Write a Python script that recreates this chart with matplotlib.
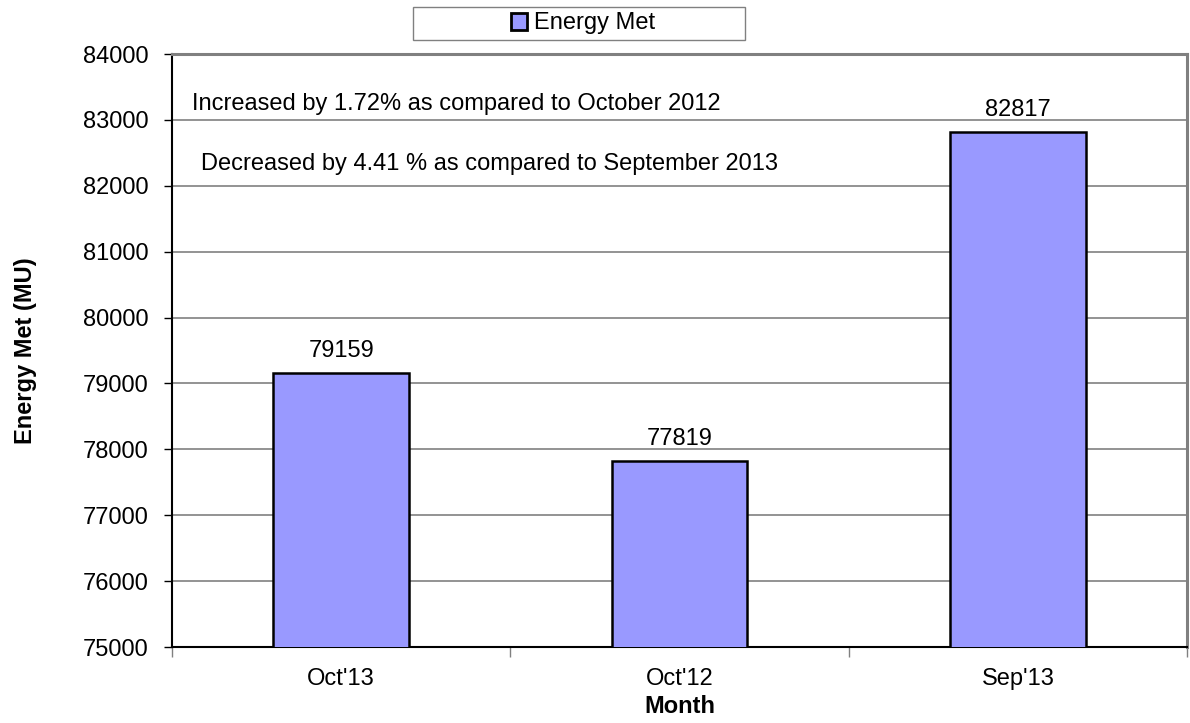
import matplotlib
matplotlib.use("Agg")
import matplotlib.pyplot as plt
from matplotlib.patches import Patch, Rectangle

months = ["Oct'13", "Oct'12", "Sep'13"]
energy_met = [79159, 77819, 82817]
y_ticks = [75000, 76000, 77000, 78000, 79000, 80000, 81000, 82000, 83000, 84000]
notes = ["Increased by 1.72% as compared to October 2012",
         "Decreased by 4.41 % as compared to September 2013"]

plt.rcParams["font.family"] = ["Liberation Sans", "DejaVu Sans"]
bar_color = "#9999FF"

fig = plt.figure(figsize=(11.9, 7.23), dpi=100)
ax = fig.add_axes([0.1445, 0.1051, 0.853, 0.8202])

x = list(range(len(months)))
ax.bar(x, energy_met, width=0.4, color=bar_color, edgecolor="black",
       linewidth=1.8, zorder=3)

# value labels above each bar
for xi, v in zip(x, energy_met):
    ax.annotate(str(v), (xi, v), xytext=(0, 8), textcoords="offset points",
                ha="center", va="bottom", fontsize=17)

ax.set_xlim(-0.5, len(months) - 0.5)
ax.set_ylim(y_ticks[0], y_ticks[-1])
ax.set_yticks(y_ticks)
ax.tick_params(axis="y", labelsize=17, length=6, width=1, pad=11,
               direction="out")

# category labels at centers, ticks at boundaries
ax.set_xticks(x)
ax.set_xticklabels(months, fontsize=17)
ax.set_xticks([i - 0.5 for i in range(len(months) + 1)], minor=True)
ax.tick_params(axis="x", which="major", length=0, pad=15)
ax.tick_params(axis="x", which="minor", length=7, width=1, color="#808080")

ax.grid(axis="y", color="#808080", linewidth=1.2, zorder=0)
for side in ["top", "right"]:
    ax.spines[side].set_color("#808080")
    ax.spines[side].set_linewidth(2.2)
for side in ["left", "bottom"]:
    ax.spines[side].set_color("black")
    ax.spines[side].set_linewidth(1.5)

ax.set_xlabel("Month", fontsize=17, fontweight="bold", labelpad=4)
ax.set_ylabel("Energy Met (MU)", fontsize=17, fontweight="bold", labelpad=33)

ax.text(0.02, 0.915, notes[0], transform=ax.transAxes, fontsize=17,
        ha="left", va="center")
ax.text(0.029, 0.815, notes[1], transform=ax.transAxes, fontsize=17,
        ha="left", va="center")

# legend frame drawn as a plain box, legend entry centered inside it
fig.patches.append(Rectangle((413 / 1190, 1 - 40 / 723), 332 / 1190, 33 / 723,
                             transform=fig.transFigure, facecolor="white",
                             edgecolor="#808080", linewidth=1))
handle = Patch(facecolor=bar_color, edgecolor="black", linewidth=2)
fig.legend([handle], ["Energy Met"], loc="center",
           bbox_to_anchor=(583 / 1190, 1 - 23.5 / 723), fontsize=17,
           frameon=False, handlelength=0.7, handleheight=0.7,
           handletextpad=0.3, borderpad=0, borderaxespad=0)

fig.savefig("out.png", dpi=100)
